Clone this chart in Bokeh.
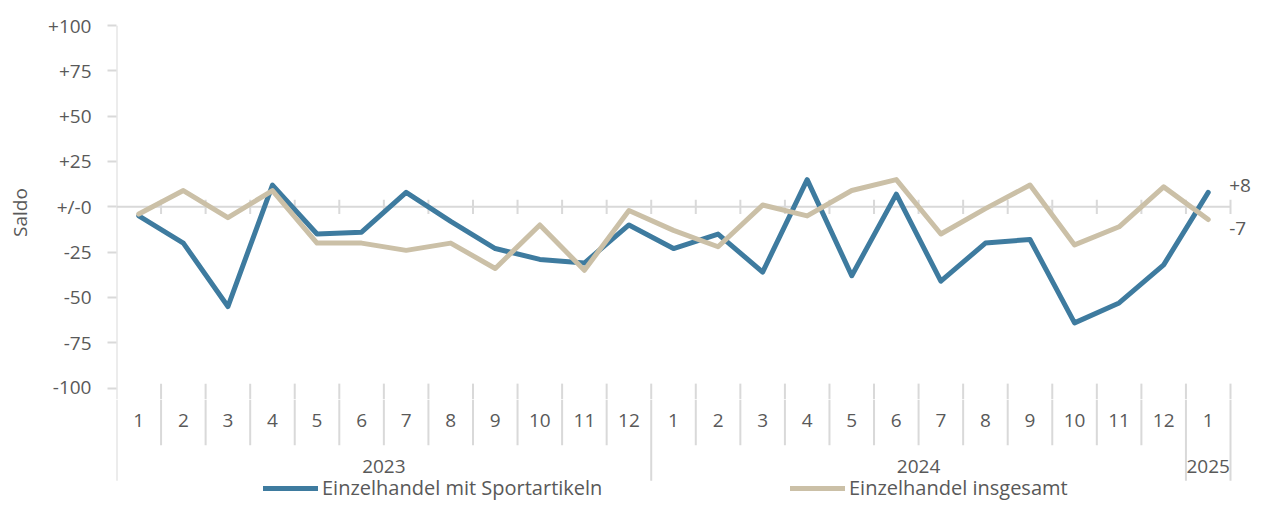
from bokeh.plotting import figure
from bokeh.layouts import column
from bokeh.models import Range1d, FixedTicker, Legend, LegendItem, Label, ColumnDataSource
from bokeh.embed import file_html
from bokeh.resources import INLINE

# ---------------- data ----------------
months = ["1", "2", "3", "4", "5", "6", "7", "8", "9", "10", "11", "12",
          "1", "2", "3", "4", "5", "6", "7", "8", "9", "10", "11", "12",
          "1"]
years = ["2023"] * 12 + ["2024"] * 12 + ["2025"]
sport = [-5, -20, -55, 12, -15, -14, 8, -8, -23, -29, -31, -10,
         -23, -15, -36, 15, -38, 7, -41, -20, -18, -64, -53, -32,
         8]
gesamt = [-4, 9, -6, 9, -20, -20, -24, -20, -34, -10, -35, -2,
          -13, -22, 1, -5, 9, 15, -15, -1, 12, -21, -11, 11,
          -7]
series_names = ["Einzelhandel mit Sportartikeln", "Einzelhandel insgesamt"]
y_ticks = [-100, -75, -50, -25, 0, 25, 50, 75, 100]
y_tick_labels = ["-100", "-75", "-50", "-25", "+/-0", "+25", "+50", "+75", "+100"]
y_title = "Saldo"

# ---------------- style / layout ----------------
FONT = "Open Sans"
FS = "19px"
FS_LEG = "20px"
TXT = "#595959"
GRID = "#d9d9d9"
BLUE = "#3e7b9f"
BEIGE = "#cbc0a7"

W = 1253
H_TOP, H_BOT = 399, 102
LEFT, TOP = 116, 25
SCALE = 1.8133                      # px per value unit
X_PAD = 0.516                       # room right of the last category for end labels

n = len(months)
xc = [i + 0.5 for i in range(n)]

Y_TOP = 100
Y_MID = Y_TOP - (H_TOP - TOP) / SCALE
Y_BOT = Y_MID - H_BOT / SCALE
SEP_TOP = -97.5
SEP_SHORT = -131.5
SEP_LONG = -151
Y_MONTH = -118
Y_YEAR = -143
TICK_HALF = 3.9

xr = Range1d(0, n + X_PAD)

# ---------- top figure: lines ----------
p = figure(width=W, height=H_TOP, x_range=xr, y_range=Range1d(Y_MID, Y_TOP),
           output_backend="svg", toolbar_location=None, x_axis_type=None,
           min_border_left=LEFT, min_border_right=0, min_border_top=TOP, min_border_bottom=0)
# ---------- bottom figure: category axis + legend ----------
q = figure(width=W, height=H_BOT, x_range=xr, y_range=Range1d(Y_BOT, Y_MID),
           output_backend="svg", toolbar_location=None, x_axis_type=None, y_axis_type=None,
           min_border_left=LEFT, min_border_right=0, min_border_top=0, min_border_bottom=0)
for f in (p, q):
    f.xgrid.grid_line_color = None
    f.ygrid.grid_line_color = None
    f.outline_line_color = None
    f.background_fill_color = "white"
    f.border_fill_color = "white"

# y axis
ax = p.yaxis[0]
ax.ticker = FixedTicker(ticks=y_ticks)
ax.major_label_overrides = {t: l for t, l in zip(y_ticks, y_tick_labels)}
ax.axis_line_color = None
ax.major_tick_line_color = GRID
ax.major_tick_line_width = 2
ax.major_tick_out = 9
ax.major_tick_in = 0
ax.minor_tick_line_color = None
ax.major_label_standoff = 16
ax.major_label_text_font = FONT
ax.major_label_text_font_size = FS
ax.major_label_text_color = TXT
ax.axis_label = y_title
ax.axis_label_text_font = FONT
ax.axis_label_text_font_size = FS
ax.axis_label_text_font_style = "normal"
ax.axis_label_text_color = TXT
ax.axis_label_standoff = 12

# zero line with category ticks
p.segment(x0=[0], y0=[0], x1=[n], y1=[0], line_color=GRID, line_width=2)
bx = list(range(1, n + 1))
p.segment(x0=bx, y0=[-TICK_HALF] * len(bx), x1=bx, y1=[TICK_HALF] * len(bx),
          line_color=GRID, line_width=2)

# category separators (split over both figures)
short_x, long_x = [], []
for b in range(1, n):
    if years[b] != years[b - 1]:
        long_x.append(b)
    else:
        short_x.append(b)
long_x.append(n)
all_x = short_x + long_x
p.segment(x0=all_x, y0=[SEP_TOP] * len(all_x), x1=all_x, y1=[Y_MID] * len(all_x),
          line_color=GRID, line_width=2)
p.segment(x0=[0], y0=[Y_TOP], x1=[0], y1=[Y_MID], line_color=GRID, line_width=2)
q.segment(x0=short_x, y0=[Y_MID] * len(short_x), x1=short_x, y1=[SEP_SHORT] * len(short_x),
          line_color=GRID, line_width=2)
q.segment(x0=[0] + long_x, y0=[Y_MID] * (len(long_x) + 1), x1=[0] + long_x,
          y1=[SEP_LONG] * (len(long_x) + 1), line_color=GRID, line_width=2)

# month labels
q.text(x=xc, y=[Y_MONTH] * n, text=months, text_align="center", text_baseline="middle",
       text_font={"value": FONT}, text_font_size=FS, text_color=TXT)

# year labels
groups = []
start = 0
for i in range(1, n + 1):
    if i == n or years[i] != years[start]:
        groups.append((years[start], (start + i) / 2))
        start = i
q.text(x=[g[1] for g in groups], y=[Y_YEAR] * len(groups), text=[g[0] for g in groups],
       text_align="center", text_baseline="middle",
       text_font={"value": FONT}, text_font_size=FS, text_color=TXT)

# series
src = ColumnDataSource(dict(x=xc, sport=sport, gesamt=gesamt))
styles = [dict(line_color=BLUE, line_width=5, line_join="round", line_cap="round"),
          dict(line_color=BEIGE, line_width=5, line_join="round", line_cap="round")]
p.line("x", "sport", source=src, **styles[0])
p.line("x", "gesamt", source=src, **styles[1])

# end labels
for vals, yoff in ((sport, 7), (gesamt, -9)):
    p.add_layout(Label(x=xc[-1], y=vals[-1], text=f"{vals[-1]:+d}", x_offset=21, y_offset=yoff,
                       text_baseline="middle", text_font=FONT, text_font_size=FS,
                       text_color=TXT))

# legends: the same series in the bottom figure (they fall outside its visible range)
for col, st, name, loc in (("sport", styles[0], series_names[0], (147, 0)),
                           ("gesamt", styles[1], series_names[1], (674, 0))):
    r = q.line("x", col, source=src, **st)
    lg = Legend(items=[LegendItem(label=name, renderers=[r])], location=loc,
                glyph_width=55, glyph_height=16, label_height=16, label_standoff=4,
                padding=0, margin=0,
                border_line_color=None, background_fill_alpha=0,
                label_text_font=FONT, label_text_font_size=FS_LEG, label_text_color=TXT)
    q.add_layout(lg)

layout = column(p, q, spacing=0)
open("out.html", "w").write(file_html(layout, INLINE))
